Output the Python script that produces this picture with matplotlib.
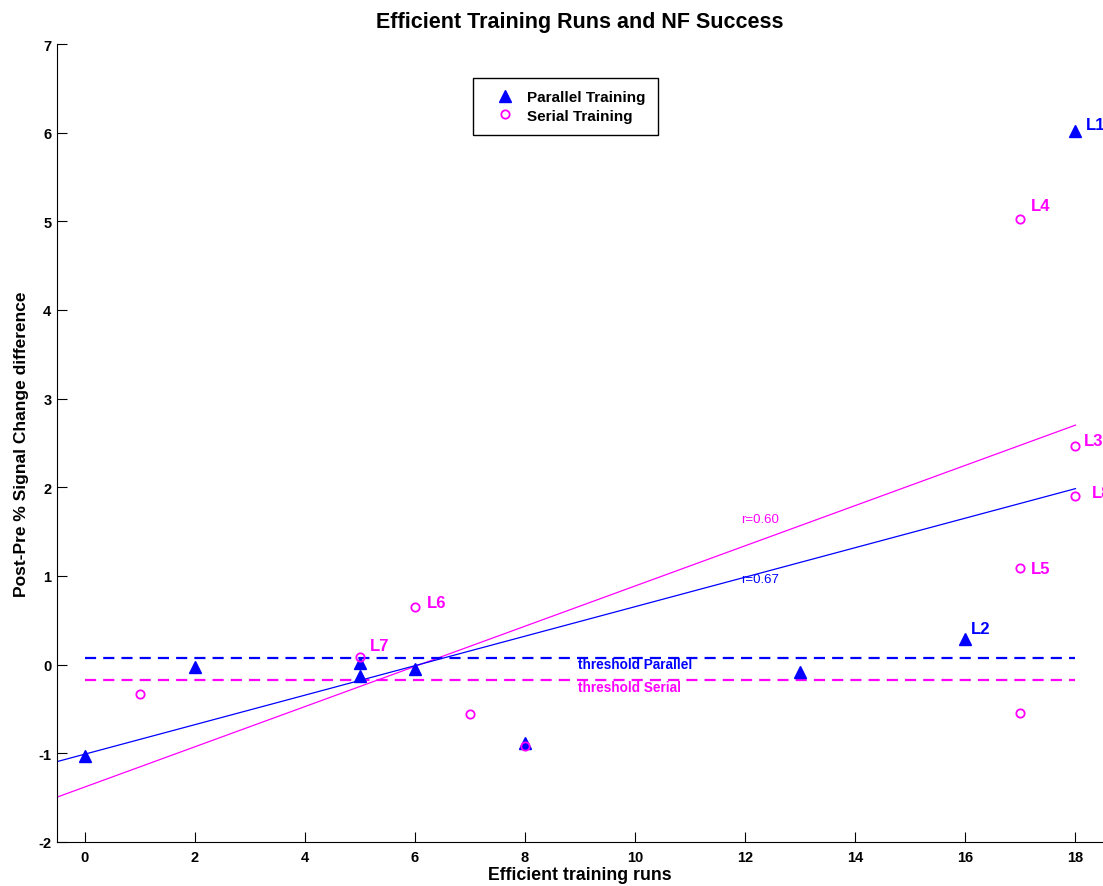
import matplotlib
matplotlib.use("Agg")

import matplotlib.pyplot as plt
import numpy as np

plt.rcParams["font.family"] = ["Liberation Sans", "DejaVu Sans"]
plt.rcParams["axes.unicode_minus"] = False

# efficient training runs vs. post-pre % signal change, per subject
parallel_runs = [0, 2, 5, 5, 6, 8, 13, 16, 18]
parallel_diff = [-1.03, -0.03, 0.02, -0.13, -0.05, -0.88, -0.08, 0.29, 6.02]
serial_runs = [1, 5, 6, 7, 8, 17, 17, 17, 18, 18]
serial_diff = [-0.33, 0.09, 0.65, -0.56, -0.92, 5.03, 1.09, -0.55, 2.47, 1.90]

# labelled subjects: (name, group, x, y, label offset in pixels)
subject_labels = [
    ("L1", "parallel", 18, 6.02, (10, 6)),
    ("L2", "parallel", 16, 0.29, (6, 10)),
    ("L3", "serial", 18, 2.47, (8, 5)),
    ("L4", "serial", 17, 5.03, (10, 13)),
    ("L5", "serial", 17, 1.09, (10, 0)),
    ("L6", "serial", 6, 0.65, (12, 5)),
    ("L7", "serial", 5, 0.09, (10, 11)),
    ("L8", "serial", 18, 1.90, (16, 4)),
]

threshold_parallel = 0.08
threshold_serial = -0.17
r_parallel_text = "r=0.60"
r_serial_text = "r=0.67"

BLUE = "#0000ff"
MAGENTA = "#ff00ff"
colors = {"parallel": BLUE, "serial": MAGENTA}

fig = plt.figure(figsize=(11.03, 8.87), dpi=100)
ax = fig.add_axes([57 / 1103, 1 - 843 / 887, 1046 / 1103, (843 - 45) / 887])

ax.plot(parallel_runs, parallel_diff, linestyle="none", marker="^", markersize=8.5,
        color=BLUE, markeredgecolor=BLUE, label="Parallel Training", zorder=4)
ax.plot(serial_runs, serial_diff, linestyle="none", marker="o", markersize=6,
        markerfacecolor="none", markeredgecolor=MAGENTA, markeredgewidth=1.3,
        label="Serial Training", zorder=4)

# least-squares fits (colours as in the original analysis figure)
xs = np.array([-0.5, max(parallel_runs + serial_runs)])
p_fit = np.polyfit(parallel_runs, parallel_diff, 1)
s_fit = np.polyfit(serial_runs, serial_diff, 1)
ax.plot(xs, np.polyval(p_fit, xs), color=MAGENTA, linewidth=0.9, zorder=2)
ax.plot(xs, np.polyval(s_fit, xs), color=BLUE, linewidth=0.9, zorder=2)
ax.text(11.93, 1.64, r_parallel_text, color=MAGENTA, fontsize=9.5, va="center", ha="left")
ax.text(11.93, 0.97, r_serial_text, color=BLUE, fontsize=9.5, va="center", ha="left")

x0, x1 = 0, max(parallel_runs + serial_runs)
ax.hlines(threshold_parallel, x0, x1, colors=BLUE, linestyles=(0, (5, 3.2)), linewidth=1.6)
ax.hlines(threshold_serial, x0, x1, colors=MAGENTA, linestyles=(0, (5, 3.2)), linewidth=1.6)
ax.text(8.97, threshold_parallel - 0.07, "threshold Parallel", color=BLUE, fontsize=9.8,
        fontweight="bold", va="center", ha="left")
ax.text(8.97, threshold_serial - 0.08, "threshold Serial", color=MAGENTA, fontsize=9.8,
        fontweight="bold", va="center", ha="left")

for name, group, x, y, (dx, dy) in subject_labels:
    ax.annotate(name, (x, y), xytext=(dx, dy), textcoords="offset pixels",
                color=colors[group], fontsize=12, fontweight="bold",
                ha="left", va="center", annotation_clip=False)

ax.set_xlim(-0.5, 18.5)
ax.set_ylim(-2, 7)
ax.set_xticks(np.arange(0, 19, 2))
ax.set_yticks(np.arange(-2, 8, 1))
ax.tick_params(direction="in", length=7, width=0.8, labelsize=10.5)
ax.tick_params(axis="x", pad=6)
ax.tick_params(axis="y", pad=4)
for lbl in ax.get_xticklabels() + ax.get_yticklabels():
    lbl.set_fontweight("bold")
ax.spines["top"].set_visible(False)
ax.spines["right"].set_visible(False)

ax.set_xlabel("Efficient training runs", fontsize=12.8, fontweight="bold", labelpad=1)
ax.set_ylabel("Post-Pre % Signal Change difference", fontsize=12.5, fontweight="bold",
              labelpad=7)
ax.set_title("Efficient Training Runs and NF Success", fontsize=15.5, fontweight="bold",
             pad=12)

leg = ax.legend(loc="upper left", bbox_to_anchor=(473 / 1103, 1 - 79 / 887),
                bbox_transform=fig.transFigure, fancybox=False, edgecolor="black",
                framealpha=1, borderaxespad=0, handlelength=2.6, handletextpad=0.15,
                borderpad=0.8, labelspacing=0.3,
                prop={"weight": "bold", "size": 11})
leg.get_frame().set_linewidth(1)

fig.savefig("out.png", dpi=100)
